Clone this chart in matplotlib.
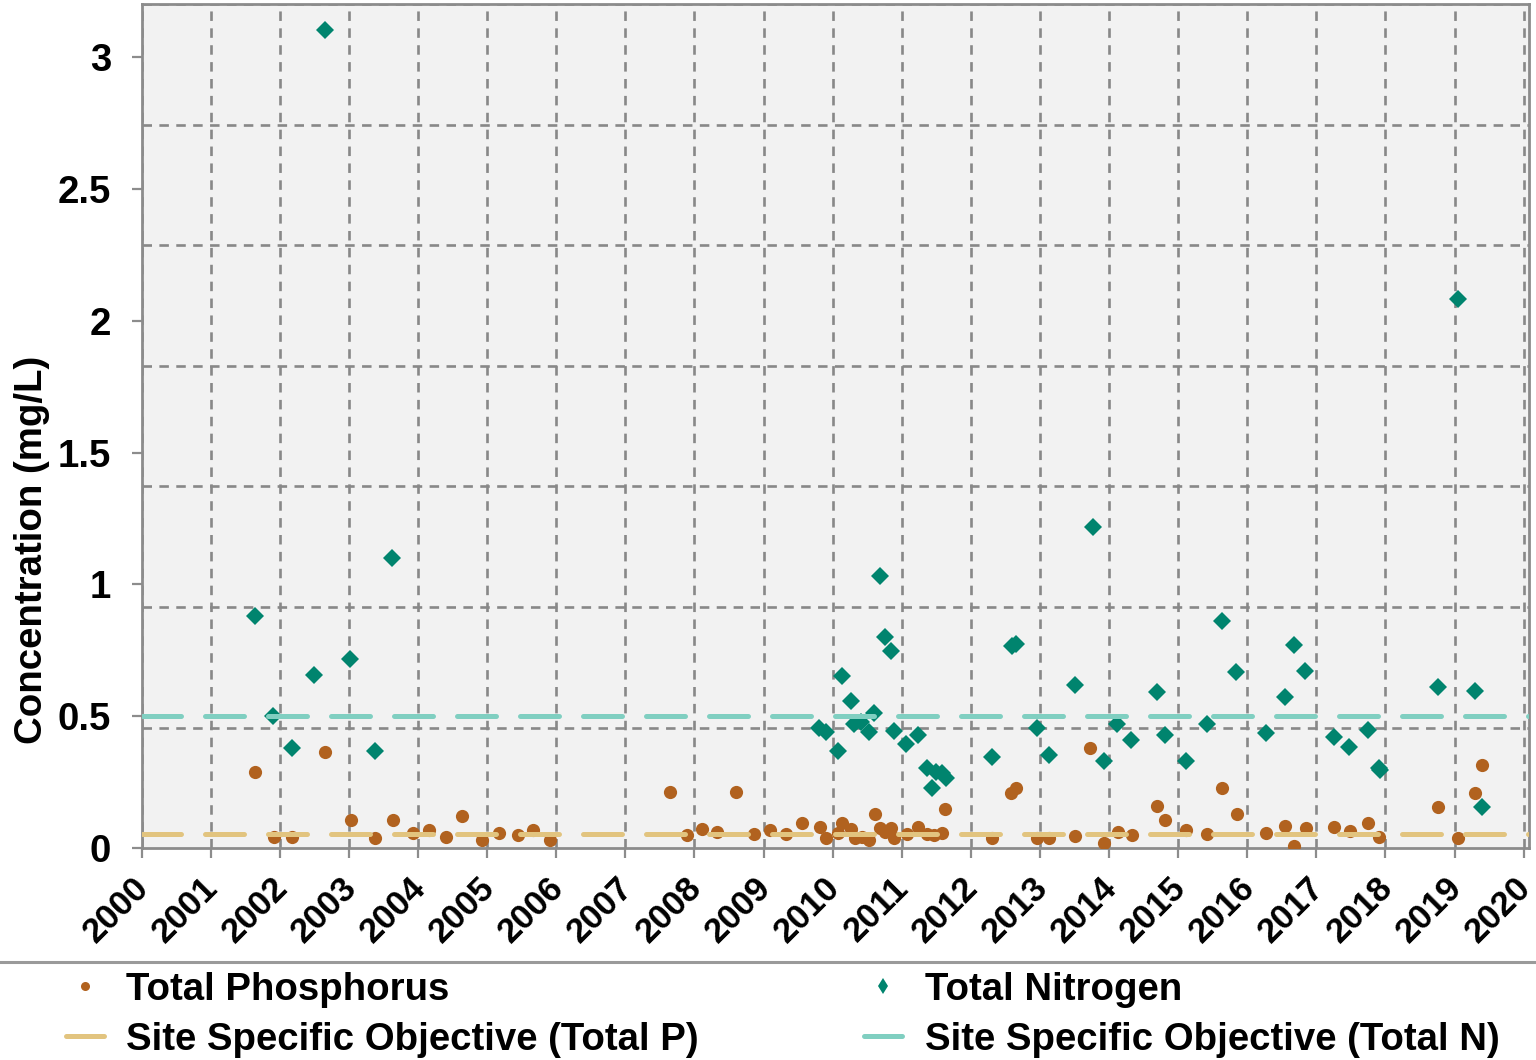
import matplotlib
matplotlib.use("Agg")
import matplotlib.pyplot as plt
from matplotlib.ticker import MultipleLocator, FormatStrFormatter, FixedLocator
from matplotlib.lines import Line2D
from matplotlib.transforms import ScaledTranslation

# ---------------- data ----------------
tp_year = [2001.64, 2001.92, 2002.18, 2002.65, 2003.03, 2003.38, 2003.63, 2003.92, 2004.16,
           2004.40, 2004.63, 2004.92, 2005.17, 2005.45, 2005.67, 2005.91, 2007.65, 2007.89,
           2008.11, 2008.32, 2008.60, 2008.86, 2009.09, 2009.33, 2009.55, 2009.81, 2009.91,
           2010.08, 2010.14, 2010.27, 2010.32, 2010.42, 2010.53, 2010.61, 2010.68, 2010.76,
           2010.84, 2010.89, 2011.07, 2011.24, 2011.37, 2011.46, 2011.58, 2011.63, 2012.31,
           2012.58, 2012.66, 2012.96, 2013.13, 2013.51, 2013.73, 2013.92, 2014.13, 2014.33,
           2014.70, 2014.81, 2015.12, 2015.42, 2015.64, 2015.85, 2016.27, 2016.55, 2016.68,
           2016.85, 2017.26, 2017.48, 2017.74, 2017.91, 2018.76, 2019.05, 2019.30, 2019.40]
tp_val = [0.288, 0.044, 0.044, 0.366, 0.107, 0.038, 0.107, 0.059, 0.069,
          0.042, 0.122, 0.031, 0.059, 0.050, 0.069, 0.031, 0.214, 0.050,
          0.072, 0.063, 0.214, 0.054, 0.069, 0.054, 0.095, 0.080, 0.038,
          0.057, 0.095, 0.072, 0.038, 0.044, 0.031, 0.129, 0.078, 0.063,
          0.076, 0.040, 0.053, 0.082, 0.054, 0.050, 0.057, 0.149, 0.040,
          0.211, 0.230, 0.040, 0.040, 0.047, 0.379, 0.019, 0.063, 0.050,
          0.161, 0.107, 0.069, 0.054, 0.227, 0.129, 0.059, 0.084, 0.010,
          0.076, 0.080, 0.067, 0.095, 0.044, 0.158, 0.038, 0.208, 0.316]

tn_year = [2001.64, 2001.90, 2002.18, 2002.50, 2002.65, 2003.01, 2003.38, 2003.62,
           2009.80, 2009.91, 2010.07, 2010.14, 2010.26, 2010.31, 2010.41, 2010.52, 2010.60,
           2010.68, 2010.75, 2010.85, 2010.89, 2011.06, 2011.23, 2011.36, 2011.44, 2011.50,
           2011.58, 2011.64, 2012.30, 2012.59, 2012.66, 2012.96, 2013.13, 2013.50, 2013.77,
           2013.92, 2014.12, 2014.32, 2014.69, 2014.81, 2015.12, 2015.42, 2015.64, 2015.84,
           2016.27, 2016.55, 2016.68, 2016.84, 2017.26, 2017.47, 2017.74, 2017.90, 2017.92,
           2018.76, 2019.05, 2019.29, 2019.40]
tn_val = [0.880, 0.500, 0.380, 0.657, 3.100, 0.717, 0.370, 1.100,
          0.455, 0.440, 0.370, 0.653, 0.558, 0.471, 0.480, 0.442, 0.511,
          1.031, 0.800, 0.748, 0.444, 0.394, 0.429, 0.303, 0.227, 0.290,
          0.284, 0.265, 0.345, 0.766, 0.776, 0.457, 0.353, 0.619, 1.217,
          0.331, 0.470, 0.410, 0.591, 0.429, 0.331, 0.470, 0.861, 0.667,
          0.436, 0.574, 0.770, 0.672, 0.423, 0.385, 0.448, 0.303, 0.297,
          0.610, 2.081, 0.597, 0.158]

obj_p = 0.055
obj_n = 0.5
year_ticks = list(range(2000, 2021))
y_ticks = [0, 0.5, 1, 1.5, 2, 2.5, 3]

# ---------------- style ----------------
C_P = "#B1621F"
C_N = "#00846E"
C_OBJ_P = "#E2C47F"
C_OBJ_N = "#80CFC1"
C_GRID = "#888888"
C_BG = "#F2F2F2"

plt.rcParams['font.family'] = ['Liberation Sans', 'DejaVu Sans']
plt.rcParams['font.weight'] = 'bold'
FS = 27.6
FS_X = 25

fig = plt.figure(figsize=(15.36, 10.60), dpi=100)
ax = fig.add_axes([141.7 / 1536, 1 - 848.3 / 1060, (1529 - 141.7) / 1536, (848.3 - 4) / 1060])
ax.set_facecolor(C_BG)

ax.set_xlim(2000, 2020.077)
ax.set_ylim(0, 3.2)

# grid
ax.xaxis.set_major_locator(FixedLocator(year_ticks))
ax.yaxis.set_major_locator(FixedLocator(y_ticks))
ax.yaxis.set_major_formatter(FormatStrFormatter('%g'))
ax.yaxis.set_minor_locator(MultipleLocator(3.2 / 7))
ax.grid(which='major', axis='x', color=C_GRID, linestyle=(0, (3.6, 2.8)), linewidth=1.9, zorder=1)
ax.grid(which='minor', axis='y', color=C_GRID, linestyle=(0, (3.6, 2.8)), linewidth=1.9, zorder=1)
ax.set_axisbelow(True)

# data
ax.plot(tp_year, tp_val, linestyle='none', marker='o', markersize=9.5, color=C_P,
        markeredgewidth=0, zorder=3, label='Total Phosphorus')
ax.plot(tn_year, tn_val, linestyle='none', marker='D', markersize=9.4, color=C_N,
        markeredgewidth=0, zorder=3, label='Total Nitrogen')
ax.axhline(obj_p, color=C_OBJ_P, linewidth=3.6, linestyle=(0, (7.8, 4.8)),
           dash_capstyle='round', zorder=4)
ax.axhline(obj_n, color=C_OBJ_N, linewidth=3.6, linestyle=(0, (7.8, 4.8)),
           dash_capstyle='round', zorder=4)

# spines / ticks
for s in ax.spines.values():
    s.set_color("#8C8C8C")
    s.set_linewidth(2)
ax.tick_params(axis='both', which='major', direction='out', length=7, width=1.6,
               color="#8C8C8C", labelsize=FS)
ax.tick_params(axis='y', which='minor', length=0)
ax.tick_params(axis='y', pad=15)
ax.tick_params(axis='x', pad=0, labelsize=FS_X)
offset = ScaledTranslation(-0.25, -0.52, fig.dpi_scale_trans)
for lab in ax.get_xticklabels():
    lab.set_rotation(45)
    lab.set_ha('center')
    lab.set_va('center')
    lab.set_rotation_mode('anchor')
    lab.set_fontweight('bold')
    lab.set_transform(lab.get_transform() + offset)
for lab in ax.get_yticklabels():
    lab.set_fontweight('bold')

ax.set_ylabel('Concentration (mg/L)', fontsize=FS, fontweight='bold')
ax.yaxis.set_label_coords(-0.0661, 0.353)

# separator line above legend
fig.add_artist(Line2D([0, 1], [1 - 962 / 1060, 1 - 962 / 1060], transform=fig.transFigure,
                      color="#9A9A9A", linewidth=2.2))

# legend (two single-column legends placed like the reference)
h_p = Line2D([], [], linestyle='none', marker='o', markersize=6.5, color=C_P, markeredgewidth=0)
h_n = Line2D([], [], linestyle='none', marker='d', markersize=8, color=C_N, markeredgewidth=0)
h_op = Line2D([], [], color=C_OBJ_P, linewidth=3.6, solid_capstyle='round')
h_on = Line2D([], [], color=C_OBJ_N, linewidth=3.6, solid_capstyle='round')
common = dict(loc='upper left', frameon=False, handlelength=1.0, handletextpad=0.58,
              labelspacing=0.37, borderaxespad=0, borderpad=0.25,
              prop={'weight': 'bold', 'size': FS})
leg1 = fig.legend([h_p, h_op], ['Total Phosphorus', 'Site Specific Objective (Total P)'],
                  bbox_to_anchor=(56 / 1536, 1 - 962 / 1060), **common)
leg2 = fig.legend([h_n, h_on], ['Total Nitrogen', 'Site Specific Objective (Total N)'],
                  bbox_to_anchor=(854.5 / 1536, 1 - 962 / 1060), **common)

fig.savefig("out.png", dpi=100, facecolor='white')
